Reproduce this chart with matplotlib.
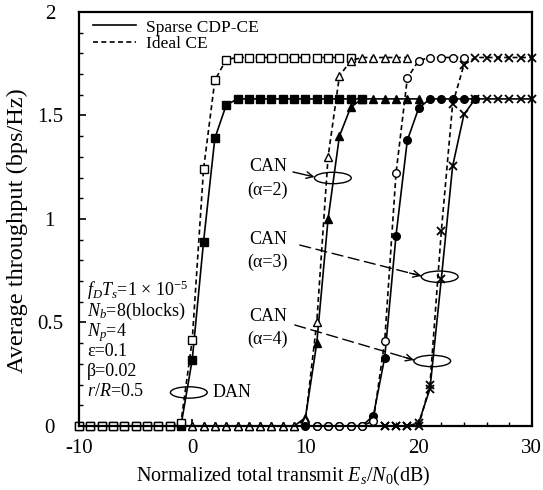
import matplotlib
matplotlib.use('Agg')
import matplotlib.pyplot as plt
from matplotlib.patches import Ellipse
from matplotlib.lines import Line2D
from matplotlib.ticker import MultipleLocator

plt.rcParams['font.family'] = ['Liberation Serif', 'DejaVu Serif']
plt.rcParams['mathtext.fontset'] = 'custom'
plt.rcParams['mathtext.rm'] = 'Liberation Serif'
plt.rcParams['mathtext.it'] = 'Liberation Serif:italic'
plt.rcParams['mathtext.bf'] = 'Liberation Serif:bold'
plt.rcParams['axes.unicode_minus'] = False

# ---------------- data ----------------
dan_x_solid = [-10, -9, -8, -7, -6, -5, -4, -3, -2, -1, 0, 1, 2, 3, 4, 5, 6, 7, 8, 9, 10, 11, 12, 13, 14, 15]
dan_solid = [0, 0, 0, 0, 0, 0, 0, 0, 0, 0.0, 0.32, 0.89, 1.39, 1.55, 1.58, 1.58, 1.58, 1.58, 1.58, 1.58, 1.58, 1.58, 1.58, 1.58, 1.58, 1.58]
dan_x_dash = [-10, -9, -8, -7, -6, -5, -4, -3, -2, -1, 0, 1, 2, 3, 4, 5, 6, 7, 8, 9, 10, 11, 12, 13, 14]
dan_dash = [0, 0, 0, 0, 0, 0, 0, 0, 0, 0.015, 0.415, 1.24, 1.67, 1.77, 1.78, 1.78, 1.78, 1.78, 1.78, 1.78, 1.78, 1.78, 1.78, 1.78, 1.78]

can2_x_solid = [0, 1, 2, 3, 4, 5, 6, 7, 8, 9, 10, 11, 12, 13, 14, 15, 16, 17, 18, 19, 20]
can2_solid = [0, 0, 0, 0, 0, 0, 0, 0, 0, 0, 0.04, 0.40, 1.00, 1.40, 1.54, 1.58, 1.58, 1.58, 1.58, 1.58, 1.58]
can2_x_dash = [0, 1, 2, 3, 4, 5, 6, 7, 8, 9, 10, 11, 12, 13, 14, 15, 16, 17, 18, 19]
can2_dash = [0, 0, 0, 0, 0, 0, 0, 0, 0, 0, 0.03, 0.50, 1.30, 1.69, 1.765, 1.78, 1.78, 1.78, 1.78, 1.78]

can3_x_solid = [10, 11, 12, 13, 14, 15, 16, 17, 18, 19, 20, 21, 22, 23, 24, 25]
can3_solid = [0, 0, 0, 0, 0, 0, 0.05, 0.33, 0.92, 1.38, 1.535, 1.58, 1.58, 1.58, 1.58, 1.58]
can3_x_dash = [11, 12, 13, 14, 15, 16, 17, 18, 19, 20, 21, 22, 23, 24]
can3_dash = [0, 0, 0, 0, 0, 0.025, 0.41, 1.22, 1.68, 1.765, 1.78, 1.78, 1.78, 1.78]

can4_x = [17, 18, 19, 20, 21, 22, 23, 24, 25, 26, 27, 28, 29, 30]
can4_solid = [0, 0, 0, 0.015, 0.18, 0.71, 1.255, 1.505, 1.58, 1.58, 1.58, 1.58, 1.58, 1.58]
can4_dash = [0, 0, 0, 0.0, 0.20, 0.94, 1.555, 1.745, 1.78, 1.78, 1.78, 1.78, 1.78, 1.78]

legend_labels = ['Sparse CDP-CE', 'Ideal CE']
param_lines = [r'$f_DT_s$=1 $\times$ 10$^{-5}$', r'$N_b$=8(blocks)', r'$N_p$=4',
               'ε=0.1', 'β=0.02', r'$r/R$=0.5']
x_ticks = [-10, 0, 10, 20, 30]
y_ticks = [0, 0.5, 1, 1.5, 2]
y_ticklabels = ['0', '0.5', '1', '1.5', '2']

# ---------------- figure ----------------
fig = plt.figure(figsize=(5.43, 4.90), dpi=100)
ax = fig.add_axes([0.1455, 0.1306, 0.834, 0.845])

LW = 1.2
DASH = (3, 2)
ms = 5.5

def solid(x, y, marker, size=ms):
    ax.plot(x, y, color='black', lw=LW, ls='-', marker=marker, ms=size,
            mfc='black', mec='black', mew=1.0, clip_on=False)

def dashed(x, y, marker, size=ms):
    ax.plot(x, y, color='black', lw=LW, ls=(0, DASH), marker=marker, ms=size,
            mfc='white', mec='black', mew=1.0, clip_on=False)

solid(dan_x_solid, dan_solid, 's', 6)
dashed(dan_x_dash, dan_dash, 's', 5.5)
solid(can2_x_solid, can2_solid, '^')
dashed(can2_x_dash, can2_dash, '^')
solid(can3_x_solid, can3_solid, 'o')
dashed(can3_x_dash, can3_dash, 'o')
ax.plot(can4_x, can4_solid, color='black', lw=LW, ls='-', marker='x', ms=6, mew=1.3, clip_on=False)
ax.plot(can4_x, can4_dash, color='black', lw=LW, ls=(0, DASH), marker='x', ms=6, mew=1.3, clip_on=False)

ax.set_xlim(-10, 30)
ax.set_ylim(0, 2)
ax.set_xticks(x_ticks)
ax.set_yticks(y_ticks)
ax.set_yticklabels(y_ticklabels)
ax.xaxis.set_minor_locator(MultipleLocator(2))
ax.yaxis.set_minor_locator(MultipleLocator(0.1))
ax.tick_params(which='both', direction='in', top=False, right=False, labelsize=15)
ax.tick_params(which='major', length=5, width=1.2)
ax.tick_params(which='minor', length=3, width=1.0)
ax.tick_params(axis='y', pad=21)
ax.tick_params(axis='x', pad=9)
for lab in ax.get_yticklabels():
    lab.set_ha('center')
for sp in ax.spines.values():
    sp.set_linewidth(1.6)

ax.set_xlabel(r'Normalized total transmit $E_s/N_0$(dB)', fontsize=14.5)
ax.set_ylabel('Average throughput (bps/Hz)', fontsize=17.5)
ax.xaxis.set_label_coords(0.45, -0.093)
ax.yaxis.set_label_coords(-0.112, 0.473)

# legend
handles = [Line2D([], [], color='black', lw=LW, ls='-'),
           Line2D([], [], color='black', lw=LW, ls=(0, DASH))]
ax.legend(handles, legend_labels, loc='upper left', bbox_to_anchor=(0.031, 0.982),
          frameon=False, fontsize=12.5, handlelength=2.5, handletextpad=0.55,
          labelspacing=0.0, borderpad=0, borderaxespad=0)

# parameter text block
param_y = [0.3285, 0.276, 0.225, 0.1795, 0.131, 0.083]
for t, yy in zip(param_lines, param_y):
    ax.text(0.018, yy, t, transform=ax.transAxes, fontsize=13, ha='left', va='center')

# curve labels with loops
def loop(cx, cy):
    ax.add_patch(Ellipse((cx, cy), 3.25, 0.055, fill=False, edgecolor='black', lw=1.0))

# DAN
loop(-0.3, 0.162)
ax.text(1.8, 0.162, 'DAN', fontsize=13, ha='left', va='center')

# CAN alpha=2
loop(12.42, 1.198)
ax.text(6.68, 1.253, 'CAN', fontsize=13, ha='center', va='center')
ax.text(6.68, 1.14, '(α=2)', fontsize=13, ha='center', va='center')
ax.annotate('', xy=(10.8, 1.203), xytext=(8.9, 1.227),
            arrowprops=dict(arrowstyle='->', lw=1.0, color='black', mutation_scale=12,
                            shrinkA=0, shrinkB=0))

# CAN alpha=3
loop(21.86, 0.721)
ax.text(6.68, 0.899, 'CAN', fontsize=13, ha='center', va='center')
ax.text(6.68, 0.792, '(α=3)', fontsize=13, ha='center', va='center')
ax.annotate('', xy=(20.23, 0.725), xytext=(9.5, 0.874),
            arrowprops=dict(arrowstyle='-', lw=1.0, color='black', ls=(0, (8, 4)),
                            shrinkA=0, shrinkB=0))
ax.annotate('', xy=(20.23, 0.725), xytext=(19.2, 0.739),
            arrowprops=dict(arrowstyle='->', lw=1.0, color='black', mutation_scale=12,
                            shrinkA=0, shrinkB=0))

# CAN alpha=4
loop(21.2, 0.314)
ax.text(6.68, 0.531, 'CAN', fontsize=13, ha='center', va='center')
ax.text(6.68, 0.42, '(α=4)', fontsize=13, ha='center', va='center')
ax.annotate('', xy=(19.57, 0.319), xytext=(9.06, 0.488),
            arrowprops=dict(arrowstyle='-', lw=1.0, color='black', ls=(0, (8, 4)),
                            shrinkA=0, shrinkB=0))
ax.annotate('', xy=(19.57, 0.319), xytext=(18.6, 0.3345),
            arrowprops=dict(arrowstyle='->', lw=1.0, color='black', mutation_scale=12,
                            shrinkA=0, shrinkB=0))

fig.savefig('out.png', dpi=100)
